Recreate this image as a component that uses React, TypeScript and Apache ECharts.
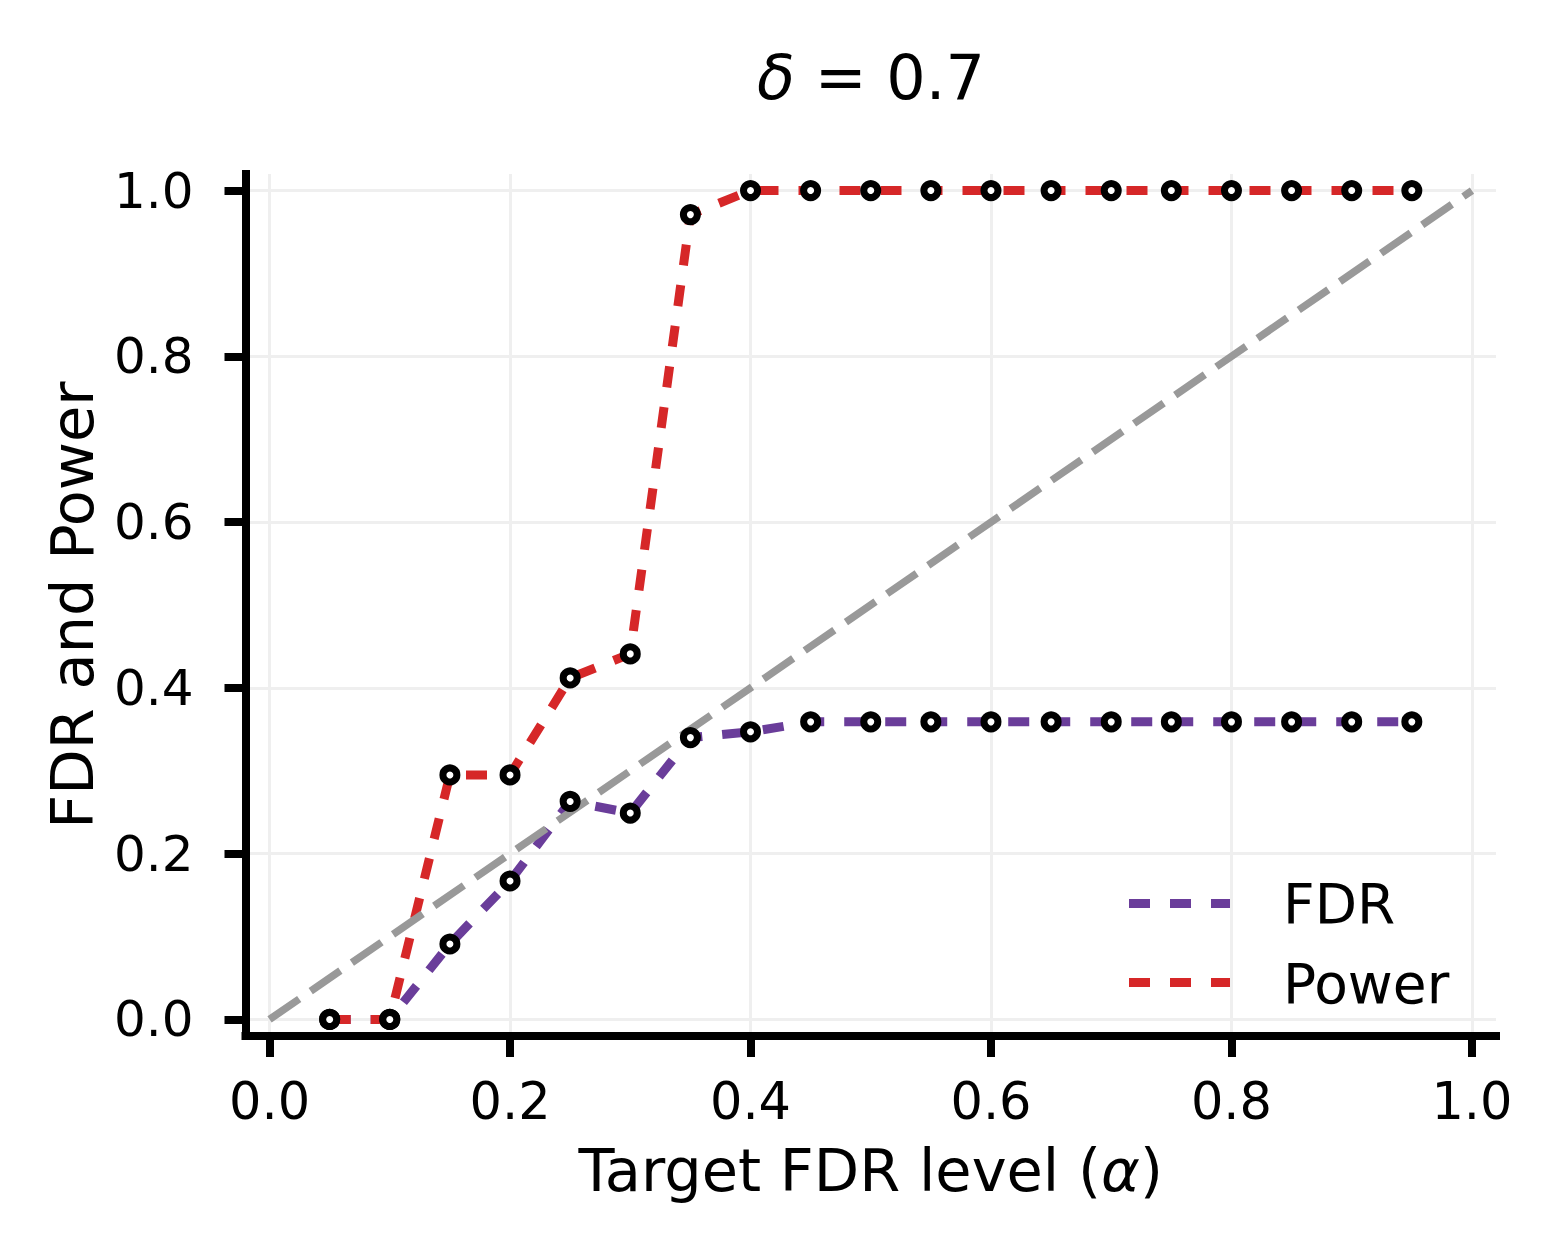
import React, { useEffect, useRef } from "react";
import * as echarts from "echarts";

const alphaLevels = [0.05, 0.1, 0.15, 0.2, 0.25, 0.3, 0.35, 0.4, 0.45, 0.5, 0.55, 0.6, 0.65, 0.7, 0.75, 0.8, 0.85, 0.9, 0.95];
const fdrValues = [0, 0, 0.091, 0.167, 0.263, 0.249, 0.340, 0.347, 0.359, 0.359, 0.359, 0.359, 0.359, 0.359, 0.359, 0.359, 0.359, 0.359, 0.359];
const powerValues = [0, 0, 0.295, 0.295, 0.412, 0.441, 0.971, 1, 1, 1, 1, 1, 1, 1, 1, 1, 1, 1, 1];
const diagonalX = [0, 1];
const diagonalY = [0, 1];
const tickValues = [0, 0.2, 0.4, 0.6, 0.8, 1.0];
const seriesNames = ["FDR", "Power"];
const titleText = "{d|δ} = 0.7";
const xAxisName = "Target FDR level ({a|α})";
const yAxisName = "FDR and Power";

const FONT = "DejaVu Sans";
const PURPLE = "#6a3d9a";
const RED = "#d62728";
const GRAY = "#999999";

export default function App() {
  const ref = useRef<HTMLDivElement>(null);
  useEffect(() => {
    if (!ref.current) return;
    const chart = echarts.init(ref.current, undefined, { renderer: "svg" });
    const pairs = (xs: number[], ys: number[]) => xs.map((x, i) => [x, ys[i]]);
    const axisCommon = {
      type: "value",
      min: -0.02,
      max: 1.02,
      splitNumber: 5,
      axisLine: { show: true, onZero: false, lineStyle: { color: "#000", width: 8, cap: "square" } },
      axisTick: { show: true, inside: false, length: 21, customValues: tickValues, lineStyle: { color: "#000", width: 8 } },
      splitLine: { show: true, showMinLine: true, showMaxLine: true, lineStyle: { color: "#efefef", width: 3 } },
      nameLocation: "middle",
    };
    const markerStyle = { color: "#fff", borderColor: "#000", borderWidth: 7, opacity: 1 };
    const option: any = {
      animation: false,
      backgroundColor: "#fff",
      grid: { left: 245.5, top: 174, width: 1250.5, height: 862, containLabel: false, outerBoundsMode: "none" },
      xAxis: {
        ...axisCommon,
        name: xAxisName,
        nameGap: 105,
        nameTextStyle: { fontFamily: FONT, fontSize: 59, color: "#000", rich: { a: { fontFamily: FONT, fontSize: 59, fontStyle: "italic", color: "#000" } } },
        axisLabel: { customValues: tickValues, margin: 40, fontFamily: FONT, fontSize: 51, color: "#000", formatter: (v: number) => v.toFixed(1) },
      },
      yAxis: {
        ...axisCommon,
        name: yAxisName,
        nameGap: 144,
        nameTextStyle: { fontFamily: FONT, fontSize: 59, color: "#000" },
        axisLabel: { customValues: tickValues, margin: 52, fontFamily: FONT, fontSize: 50, color: "#000", formatter: (v: number) => v.toFixed(1) },
      },
      series: [
        {
          name: seriesNames[0],
          type: "line",
          data: pairs(alphaLevels, fdrValues),
          showSymbol: false,
          lineStyle: { color: PURPLE, width: 9, type: [21, 20] },
          z: 2,
        },
        {
          name: seriesNames[1],
          type: "line",
          data: pairs(alphaLevels, powerValues),
          showSymbol: false,
          lineStyle: { color: RED, width: 9, type: [21, 20] },
          z: 2,
        },
        {
          name: "diagonal",
          type: "line",
          data: pairs(diagonalX, diagonalY),
          showSymbol: false,
          lineStyle: { color: GRAY, width: 7.5, type: [36, 14] },
          z: 2,
        },
        {
          name: seriesNames[0] + " points",
          type: "scatter",
          data: pairs(alphaLevels, fdrValues),
          symbol: "circle",
          symbolSize: 14,
          itemStyle: markerStyle,
          z: 3,
        },
        {
          name: seriesNames[1] + " points",
          type: "scatter",
          data: pairs(alphaLevels, powerValues),
          symbol: "circle",
          symbolSize: 14,
          itemStyle: markerStyle,
          z: 3,
        },
      ],
      graphic: [
        {
          type: "text",
          x: 871,
          y: 77,
          style: {
            text: titleText,
            fontFamily: FONT,
            fontSize: 62,
            fill: "#000",
            align: "center",
            verticalAlign: "middle",
            rich: { d: { fontFamily: FONT, fontSize: 62, fontStyle: "italic", fill: "#000" } },
          },
        },
        {
          type: "line",
          shape: { x1: 1129, y1: 903.5, x2: 1233, y2: 903.5 },
          style: { stroke: PURPLE, lineWidth: 9, lineDash: [21, 20] },
        },
        {
          type: "text",
          x: 1283,
          y: 904,
          style: { text: seriesNames[0], fontFamily: FONT, fontSize: 55, fill: "#000", verticalAlign: "middle" },
        },
        {
          type: "line",
          shape: { x1: 1129, y1: 982.5, x2: 1233, y2: 982.5 },
          style: { stroke: RED, lineWidth: 9, lineDash: [21, 20] },
        },
        {
          type: "text",
          x: 1283,
          y: 984,
          style: { text: seriesNames[1], fontFamily: FONT, fontSize: 55, fill: "#000", verticalAlign: "middle" },
        },
      ],
    };
    chart.setOption(option);
    return () => chart.dispose();
  }, []);
  return <div ref={ref} style={{ position: "fixed", left: 0, top: 0, width: 1560, height: 1260, background: "#fff" }} />;
}
